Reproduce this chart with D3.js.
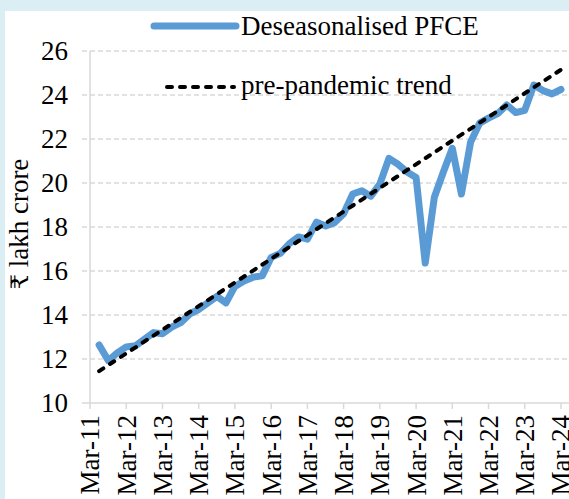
<!DOCTYPE html>
<html>
<head>
<meta charset="utf-8">
<script src="https://cdn.jsdelivr.net/npm/d3@7"></script>
<style>
    body { margin: 0; background: #DAEEF3; }
    svg { display: block; }
    text { font-family: "Times New Roman", "Liberation Serif", serif; fill: #000; }
</style>
</head>
<body>
<svg id="chart"></svg>
<script>
// quarter ends, Jun-11 to Mar-24
var quarters = [
    "Jun-11", "Sep-11", "Dec-11", "Mar-12", "Jun-12", "Sep-12", "Dec-12", "Mar-13",
    "Jun-13", "Sep-13", "Dec-13", "Mar-14", "Jun-14", "Sep-14", "Dec-14", "Mar-15",
    "Jun-15", "Sep-15", "Dec-15", "Mar-16", "Jun-16", "Sep-16", "Dec-16", "Mar-17",
    "Jun-17", "Sep-17", "Dec-17", "Mar-18", "Jun-18", "Sep-18", "Dec-18", "Mar-19",
    "Jun-19", "Sep-19", "Dec-19", "Mar-20", "Jun-20", "Sep-20", "Dec-20", "Mar-21",
    "Jun-21", "Sep-21", "Dec-21", "Mar-22", "Jun-22", "Sep-22", "Dec-22", "Mar-23",
    "Jun-23", "Sep-23", "Dec-23", "Mar-24"
];

// Deseasonalised PFCE, lakh crore
var pfce = [
    12.64, 11.93, 12.28, 12.55, 12.6, 12.9, 13.2, 13.15,
    13.45, 13.65, 14.05, 14.25, 14.55, 14.85, 14.55, 15.3,
    15.55, 15.72, 15.78, 16.62, 16.8, 17.25, 17.55, 17.45,
    18.22, 18.05, 18.2, 18.6, 19.5, 19.65, 19.4, 19.95,
    21.12, 20.85, 20.5, 20.25, 16.36, 19.35, 20.5, 21.58,
    19.5, 21.85, 22.72, 22.95, 23.15, 23.55, 23.2, 23.3,
    24.45, 24.2, 24.05, 24.25
];

// pre-pandemic trend (straight line, two ends)
var trendDates = ["Jun-11", "Mar-24"];
var trendValues = [11.45, 25.15];

var xTickLabels = ["Mar-11", "Mar-12", "Mar-13", "Mar-14", "Mar-15", "Mar-16", "Mar-17",
                   "Mar-18", "Mar-19", "Mar-20", "Mar-21", "Mar-22", "Mar-23", "Mar-24"];
var yTicks = [10, 12, 14, 16, 18, 20, 22, 24, 26];

var width = 569, height = 499;
var parseQ = d3.timeParse("%b-%y");

var svg = d3.select("#chart")
            .attr("width", width)
            .attr("height", height);

// white panel on the light blue background
svg.append("rect")
   .attr("x", 5).attr("y", 11)
   .attr("width", width - 5).attr("height", height - 11)
   .attr("fill", "#fff");

var x = d3.scaleTime()
          .domain([parseQ("Mar-11"), parseQ("Mar-24")])
          .range([90, 561]);
var y = d3.scaleLinear()
          .domain([10, 26])
          .range([403, 51]);

// gridlines
svg.append("g")
   .selectAll("line")
   .data(yTicks.filter(function(d) { return d > 10; }))
   .enter().append("line")
   .attr("x1", 82).attr("x2", width)
   .attr("y1", function(d) { return y(d); })
   .attr("y2", function(d) { return y(d); })
   .attr("stroke", "#D9D9D9")
   .attr("stroke-width", 1.5)
   .attr("stroke-dasharray", "5,3");

// y axis line
svg.append("line")
   .attr("x1", 90).attr("x2", 90)
   .attr("y1", y(26)).attr("y2", y(10))
   .attr("stroke", "#D9D9D9").attr("stroke-width", 1.5);

// x axis line
svg.append("line")
   .attr("x1", 82).attr("x2", width)
   .attr("y1", y(10)).attr("y2", y(10))
   .attr("stroke", "#D9D9D9").attr("stroke-width", 1.5);

// y tick labels
svg.append("g")
   .selectAll("text")
   .data(yTicks)
   .enter().append("text")
   .attr("x", 68)
   .attr("y", function(d) { return y(d); })
   .attr("dy", "0.35em")
   .attr("text-anchor", "end")
   .attr("font-size", 27)
   .text(function(d) { return d; });

// x ticks and labels
var xt = svg.append("g")
            .selectAll("g")
            .data(xTickLabels)
            .enter().append("g")
            .attr("transform", function(d) { return "translate(" + x(parseQ(d)) + ",0)"; });

xt.append("line")
  .attr("y1", y(10)).attr("y2", y(10) + 6)
  .attr("stroke", "#D9D9D9").attr("stroke-width", 1.5);

xt.append("text")
  .attr("transform", "translate(0," + (y(10) + 12) + ") rotate(-90)")
  .attr("dy", "0.35em")
  .attr("text-anchor", "end")
  .attr("font-size", 27)
  .text(function(d) { return d; });

// y axis title - rupee sign in its own span so the rest stays serif
var yTitle = svg.append("text")
   .attr("transform", "translate(28,224) rotate(-90)")
   .attr("text-anchor", "middle")
   .attr("font-size", 27);
yTitle.append("tspan")
      .style("font-family", "'DejaVu Serif', 'Noto Sans', sans-serif")
      .attr("font-size", 24)
      .text("₹");
yTitle.append("tspan")
      .style("font-family", "'Liberation Serif', serif")
      .text(" lakh crore");

// PFCE line
var line = d3.line()
             .x(function(d) { return x(parseQ(d.q)); })
             .y(function(d) { return y(d.v); });

var pfceData = quarters.map(function(q, i) { return { q: q, v: pfce[i] }; });
var trendData = trendDates.map(function(q, i) { return { q: q, v: trendValues[i] }; });

svg.append("path")
   .attr("d", line(pfceData))
   .attr("fill", "none")
   .attr("stroke", "#5B9BD5")
   .attr("stroke-width", 7)
   .attr("stroke-linejoin", "round")
   .attr("stroke-linecap", "round");

svg.append("path")
   .attr("d", line(trendData))
   .attr("fill", "none")
   .attr("stroke", "#000")
   .attr("stroke-width", 4)
   .attr("stroke-linecap", "round")
   .attr("stroke-dasharray", "5,8");

// legend
var legend = svg.append("g");
legend.append("line")
      .attr("x1", 154).attr("x2", 236)
      .attr("y1", 26).attr("y2", 26)
      .attr("stroke", "#5B9BD5").attr("stroke-width", 7)
      .attr("stroke-linecap", "round");
legend.append("text")
      .attr("x", 241).attr("y", 35)
      .attr("font-size", 27)
      .text("Deseasonalised PFCE");

legend.append("line")
      .attr("x1", 167).attr("x2", 234)
      .attr("y1", 87).attr("y2", 87)
      .attr("stroke", "#000").attr("stroke-width", 4)
      .attr("stroke-linecap", "round")
      .attr("stroke-dasharray", "5,8");
legend.append("text")
      .attr("x", 241).attr("y", 94)
      .attr("font-size", 27)
      .text("pre-pandemic trend");
</script>
</body>
</html>
